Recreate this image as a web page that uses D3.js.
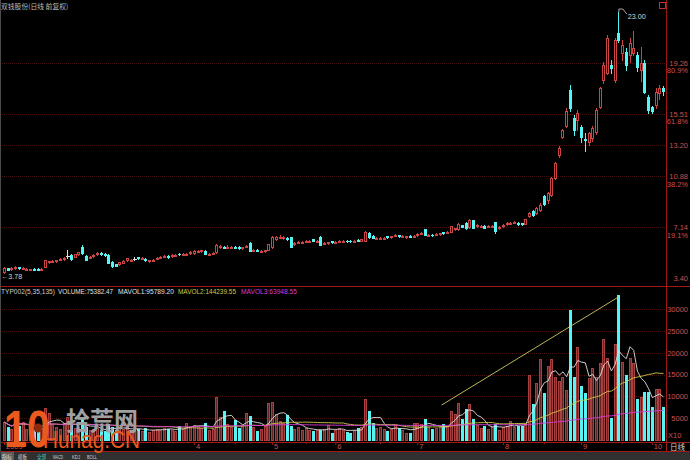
<!DOCTYPE html>
<html><head><meta charset="utf-8">
<script src="https://cdn.jsdelivr.net/npm/d3@7"></script>
<style>html,body{margin:0;padding:0;background:#000;overflow:hidden}svg{display:block}</style>
</head><body>
<svg id="c" width="690" height="460"></svg>
<script>
const opens = [3.86,4.12,4.04,4.12,4.20,4.12,4.08,4.00,4.10,4.08,4.02,4.22,4.55,4.62,4.64,4.76,4.80,5.05,5.10,4.98,
5.16,5.68,5.02,4.88,5.02,5.14,5.26,5.16,5.10,4.58,4.40,4.42,4.52,4.70,4.70,4.80,4.92,4.84,4.82,4.64,
4.70,4.82,4.90,4.96,5.04,5.02,5.06,5.20,5.12,5.14,5.24,5.22,5.36,5.38,5.40,5.14,5.20,5.30,5.68,5.72,
5.66,5.66,5.70,5.70,5.58,5.70,5.98,5.40,5.50,5.36,5.36,5.48,5.66,6.28,6.38,6.34,6.36,6.40,5.90,6.00,
6.02,6.08,6.10,6.24,6.10,6.42,5.94,5.96,6.10,6.00,6.06,6.08,6.16,6.16,6.10,6.22,6.16,6.16,6.72,6.50,
6.32,6.32,6.32,6.46,6.40,6.50,6.56,6.46,6.40,6.50,6.46,6.56,6.66,6.98,6.52,6.60,6.60,6.62,6.76,6.74,
6.80,6.98,7.00,7.30,7.45,7.14,7.64,7.20,7.20,7.24,7.18,7.20,7.52,7.06,7.22,7.36,7.40,7.46,7.46,7.44,
7.40,7.98,8.34,8.19,8.41,9.44,9.15,9.52,10.77,12.46,13.79,14.60,17.25,15.19,15.04,14.53,13.64,13.42,13.72,14.16,
16.00,17.99,18.51,19.10,17.99,21.45,19.98,20.05,19.83,19.98,19.83,18.73,19.24,16.74,16.00,16.15,17.00,17.40];
const highs = [4.18,4.16,4.18,4.25,4.24,4.22,4.16,4.10,4.12,4.12,4.12,4.76,4.68,4.74,4.76,4.86,4.94,5.45,5.14,5.20,
5.34,5.85,5.10,5.04,5.18,5.30,5.32,5.22,5.20,4.62,4.46,4.60,4.70,4.90,4.82,4.92,4.98,4.96,4.86,4.76,
4.82,4.96,5.02,5.10,5.08,5.16,5.18,5.26,5.24,5.24,5.38,5.46,5.50,5.50,5.44,5.26,5.32,5.92,5.82,5.76,
5.80,5.76,5.74,5.74,5.72,5.84,6.02,5.54,5.56,5.46,5.50,5.94,6.48,6.52,6.56,6.46,6.40,6.44,6.06,6.12,
6.14,6.20,6.22,6.28,6.22,6.46,6.06,6.08,6.14,6.12,6.18,6.20,6.20,6.20,6.22,6.26,6.30,6.86,6.76,6.54,
6.44,6.44,6.44,6.50,6.52,6.64,6.60,6.58,6.52,6.54,6.58,6.72,6.80,7.04,6.64,6.64,6.72,6.74,6.80,6.88,
7.26,7.12,7.42,7.34,7.50,7.76,7.68,7.36,7.32,7.28,7.32,7.32,7.56,7.22,7.38,7.52,7.54,7.60,7.50,7.48,
7.78,8.28,8.40,8.66,8.90,9.52,9.72,10.85,11.95,13.10,14.40,15.90,17.62,15.41,15.78,14.67,14.09,14.16,14.60,15.90,
17.50,19.30,21.30,19.46,21.09,23.00,20.94,20.35,21.09,21.60,20.05,20.42,19.46,16.89,16.10,17.40,17.62,17.55];
const lows = [3.78,3.98,4.00,4.08,4.08,4.08,4.02,3.96,3.98,3.98,3.98,4.18,4.50,4.58,4.60,4.70,4.76,4.85,4.76,4.94,
5.10,5.20,4.70,4.84,4.98,5.10,5.10,5.02,4.48,4.22,4.26,4.38,4.48,4.66,4.66,4.70,4.80,4.80,4.66,4.60,
4.66,4.78,4.86,4.92,4.90,4.98,5.02,5.10,5.08,5.10,5.20,5.18,5.32,5.34,5.16,5.10,5.16,5.26,5.62,5.58,
5.62,5.62,5.58,5.54,5.54,5.66,5.36,5.36,5.38,5.32,5.32,5.44,5.62,6.22,6.34,6.30,6.20,5.66,5.86,5.96,
5.98,6.04,6.06,6.12,6.06,5.80,5.90,5.92,5.98,5.96,6.02,6.04,6.06,6.06,6.06,6.12,6.12,6.12,6.38,6.32,
6.28,6.28,6.28,6.36,6.36,6.46,6.44,6.42,6.36,6.40,6.42,6.52,6.62,6.56,6.48,6.50,6.56,6.58,6.66,6.70,
6.76,6.94,6.96,7.14,7.00,7.10,7.06,7.16,7.16,7.08,7.14,7.16,6.70,7.02,7.18,7.32,7.36,7.42,7.32,7.34,
7.36,7.90,7.98,8.10,8.36,8.78,8.96,9.44,10.70,12.30,13.70,14.50,15.70,13.94,14.31,13.42,12.75,13.20,13.50,14.00,
15.90,17.80,18.40,18.51,17.85,20.80,19.46,18.73,19.32,19.80,18.66,17.88,17.00,15.56,15.56,15.93,16.60,16.85];
const closes = [4.12,4.02,4.12,4.20,4.12,4.16,4.10,4.04,4.02,4.02,4.08,4.70,4.62,4.68,4.70,4.78,4.88,5.05,4.80,5.14,
5.28,5.24,4.75,4.98,5.12,5.24,5.14,5.06,4.52,4.30,4.32,4.55,4.64,4.84,4.76,4.80,4.84,4.90,4.70,4.70,
4.76,4.90,4.96,5.04,4.94,5.10,5.12,5.14,5.18,5.18,5.32,5.40,5.42,5.44,5.20,5.20,5.26,5.86,5.76,5.62,
5.72,5.70,5.62,5.58,5.66,5.78,5.40,5.48,5.42,5.40,5.44,5.88,6.42,6.40,6.44,6.40,6.24,5.70,6.00,6.08,
6.08,6.14,6.16,6.16,6.16,5.84,6.00,6.02,6.02,6.06,6.12,6.14,6.12,6.12,6.16,6.16,6.24,6.80,6.42,6.36,
6.38,6.38,6.38,6.40,6.46,6.58,6.48,6.52,6.46,6.44,6.52,6.66,6.74,6.60,6.58,6.56,6.66,6.68,6.70,6.82,
7.20,7.08,7.38,7.18,7.05,7.70,7.10,7.30,7.26,7.12,7.26,7.26,6.88,7.16,7.32,7.46,7.48,7.54,7.36,7.38,
7.72,8.19,8.04,8.56,8.78,8.85,9.66,10.77,11.87,12.98,14.31,15.70,15.93,14.31,15.56,13.79,13.57,14.09,14.46,15.78,
17.40,19.10,21.09,18.88,20.94,20.94,20.57,19.10,20.72,20.35,18.95,19.24,17.11,15.78,15.71,17.11,17.40,17.18];
const volumes = [4100,3000,2500,5500,3200,4200,2600,2200,2400,2000,2800,7300,6100,3600,3000,2600,3800,5200,3400,2800,
3000,4800,3000,2400,2600,2800,2200,2000,3600,3000,2200,2400,2600,3200,2400,2200,2600,2000,2800,1800,
2200,2600,2400,2800,2600,2200,2000,3200,2600,3900,3000,3400,3200,2800,3900,2400,2600,9800,5200,6600,
3600,3000,4500,2800,3400,6100,5400,3000,2000,2600,3200,8400,8700,6000,4400,3800,5700,3300,2600,3000,
2400,2800,2200,2000,2400,2300,2600,3400,1600,2200,2800,2400,1900,1700,2400,2700,3000,9400,6600,4000,
2800,3000,2600,2000,2600,3400,2700,2400,1600,1600,3800,4000,3600,4800,2900,2600,2800,3000,3600,3200,
6600,6000,8400,4700,7200,8200,4700,3400,2800,3300,2600,3000,3700,2400,3000,3200,4400,3000,3300,3200,
3600,15000,8300,13000,18600,10700,17000,18500,14500,13600,14400,11400,29700,14400,21200,12400,10700,14300,16400,14400,
17700,23200,18700,5000,22000,33200,17900,15000,18800,17700,9400,9800,10900,10900,7500,11600,11700,7538];

const priceLevels = [19.26, 15.51, 13.20, 10.88, 7.14, 3.40];
const levelPct = ["80.9%", "61.8%", "", "38.2%", "19.1%", ""];
const volTicks = [5000, 10000, 15000, 20000, 25000, 30000];
const monthTickIdx = [0, 51, 72, 89, 111, 134, 155, 174];
const monthTickLabels = ["2009", "4", "5", "6", "7", "8", "9", "10"];
const minorTickIdx = [19, 36, 62, 81, 101, 124, 145, 166];
const maPeriods = [5, 35, 135];
const trendLine = [[117.4, 8000], [165, 32800]];
const headerParts = ["TYP002(5,35,135)", "VOLUME:75382.47", "MAVOL1:95789.20", "MAVOL2:144239.55", "MAVOL3:63948.55"];
const toolbarItems = ["指标", "模板", "全部", "MACD", "KDJ", "BOLL"];

const RED = "#cc4444", CYAN = "#58f4f4", AXR = "#a01818", LAB = "#cc5050";
const FONT = "'Liberation Sans', Arial, sans-serif";
const CJK = "'Noto Sans CJK SC', sans-serif";

const svg = d3.select("#c");
svg.append("rect").attr("width", 690).attr("height", 460).attr("fill", "#000");

const N = closes.length;
const x = d3.scaleBand().domain(d3.range(N)).range([3, 665]).paddingInner(0.2);
const cx = i => x(i) + x.bandwidth() / 2;
const yP = d3.scaleLinear().domain([3.40, 23.00]).range([278, 12]);
const yV = d3.scaleLinear().domain([0, 30000]).range([440, 309]);

// grid lines
const grid = svg.append("g").attr("stroke", "#441010").attr("stroke-dasharray", "1,1").attr("shape-rendering", "crispEdges");
priceLevels.filter(v => v > 3.40).forEach(v => {
  grid.append("line").attr("x1", 0).attr("x2", 666).attr("y1", Math.round(yP(v)) + 0.5).attr("y2", Math.round(yP(v)) + 0.5);
});
volTicks.forEach(v => {
  grid.append("line").attr("x1", 0).attr("x2", 666).attr("y1", Math.round(yV(v)) + 0.5).attr("y2", Math.round(yV(v)) + 0.5);
});

// frame lines
const frame = svg.append("g").attr("stroke", AXR).attr("shape-rendering", "crispEdges");
frame.append("line").attr("x1", 666.5).attr("x2", 666.5).attr("y1", 0).attr("y2", 452);
frame.append("line").attr("x1", 0).attr("x2", 690).attr("y1", 286.5).attr("y2", 286.5);
frame.append("line").attr("x1", 0).attr("x2", 690).attr("y1", 442.5).attr("y2", 442.5);
frame.append("line").attr("x1", 0).attr("x2", 690).attr("y1", 451.5).attr("y2", 451.5);
svg.append("line").attr("x1", 0.5).attr("x2", 0.5).attr("y1", 0).attr("y2", 452).attr("stroke", "#4a4a4a");

// candles
const data = d3.range(N).map(i => ({i, o: opens[i], h: highs[i], l: lows[i], c: closes[i], v: volumes[i]}));
const colorOf = d => d.c > d.o ? RED : (d.c < d.o ? CYAN : "#e0e0e0");
const bw = Math.round(x.bandwidth());
const cg = svg.append("g").attr("shape-rendering", "crispEdges");
data.forEach(d => {
  const col = colorOf(d);
  const left = Math.round(x(d.i));
  const mid = left + Math.floor(bw / 2) + 0.5;
  cg.append("line").attr("x1", mid).attr("x2", mid)
    .attr("y1", Math.round(yP(d.h))).attr("y2", Math.round(yP(d.l)) + 1).attr("stroke", col);
  const top = Math.round(yP(Math.max(d.o, d.c)));
  const bot = Math.round(yP(Math.min(d.o, d.c)));
  if (d.c > d.o) {
    cg.append("rect").attr("x", left + 0.5).attr("y", top + 0.5).attr("width", bw - 1).attr("height", Math.max(1, bot - top))
      .attr("fill", "#000").attr("stroke", col);
  } else if (d.c < d.o) {
    cg.append("rect").attr("x", left).attr("y", top).attr("width", bw).attr("height", Math.max(1, bot - top + 1)).attr("fill", col);
  } else {
    cg.append("rect").attr("x", left - 0.5).attr("y", top).attr("width", bw + 1).attr("height", 1).attr("fill", col);
  }
});

// high / low annotations
const hiIdx = d3.maxIndex(highs), loIdx = d3.minIndex(lows);
const hx = cx(hiIdx), hy = yP(highs[hiIdx]);
svg.append("polyline").attr("points", `${hx},${hy} ${hx},${hy - 3} ${hx + 4},${hy - 3} ${hx + 8},${hy + 2}`)
  .attr("fill", "none").attr("stroke", "#cfcfcf").attr("stroke-width", 0.8);
svg.append("text").attr("x", hx + 9).attr("y", hy + 6.5).text(highs[hiIdx].toFixed(2))
  .attr("fill", "#d8d8d8").attr("font-family", FONT).attr("font-size", 7.2);
svg.append("text").attr("x", 1).attr("y", yP(lows[loIdx]) + 6.5).text("←" + lows[loIdx].toFixed(2))
  .attr("fill", "#d0d0d0").attr("font-family", FONT).attr("font-size", 7.2);

// volume bars
const vg = svg.append("g").attr("shape-rendering", "crispEdges");
data.forEach(d => {
  const left = Math.round(x(d.i));
  const top = Math.round(yV(d.v));
  if (d.c >= d.o) {
    vg.append("rect").attr("x", left + 0.5).attr("y", top + 0.5).attr("width", bw - 1).attr("height", Math.max(1, 440 - top))
      .attr("fill", "#642424").attr("stroke", "#a84040");
  } else {
    vg.append("rect").attr("x", left).attr("y", top).attr("width", bw).attr("height", Math.max(1, 441 - top)).attr("fill", CYAN);
  }
});

// moving averages of volume
const maColors = ["#e0e0e0", "#d0c848", "#d83cd8"];
maPeriods.forEach((p, k) => {
  const ma = volumes.map((v, i) => d3.mean(volumes.slice(Math.max(0, i - p + 1), i + 1)));
  const line = d3.line().x((v, i) => cx(i)).y(v => yV(v)).curve(d3.curveLinear);
  svg.append("path").attr("d", line(ma)).attr("fill", "none").attr("stroke", maColors[k]).attr("stroke-width", 0.9);
});

// trend line
svg.append("line")
  .attr("x1", x(0) + trendLine[0][0] * x.step() + x.bandwidth() / 2).attr("y1", yV(trendLine[0][1]))
  .attr("x2", cx(trendLine[1][0])).attr("y2", yV(trendLine[1][1]))
  .attr("stroke", "#d0c860").attr("stroke-width", 0.9);

// right axes
const pAxis = svg.append("g").attr("transform", "translate(688,0)")
  .call(d3.axisLeft(yP).tickValues(priceLevels).tickSize(0).tickPadding(0).tickFormat(d3.format(".2f")));
pAxis.select(".domain").remove();
pAxis.selectAll("text").attr("fill", LAB).attr("font-family", FONT).attr("font-size", 7.5).attr("dy", "0.32em");
priceLevels.forEach((v, k) => {
  if (levelPct[k]) svg.append("text").attr("x", 688).attr("y", yP(v) + 10.5).attr("text-anchor", "end")
    .text(levelPct[k]).attr("fill", LAB).attr("font-family", FONT).attr("font-size", 7.5);
});
const vAxis = svg.append("g").attr("transform", "translate(688,0)")
  .call(d3.axisLeft(yV).tickValues(volTicks).tickSize(0).tickPadding(0).tickFormat(d3.format("d")));
vAxis.select(".domain").remove();
vAxis.selectAll("text").attr("fill", LAB).attr("font-family", FONT).attr("font-size", 7.5).attr("dy", "0.32em");
svg.append("text").attr("x", 668).attr("y", 438).text("X10").attr("fill", LAB).attr("font-family", FONT).attr("font-size", 7.5);

// bottom axis
const bAxis = svg.append("g").attr("transform", "translate(0,442)")
  .call(d3.axisBottom(x).tickValues(monthTickIdx).tickSize(3).tickPadding(1).tickFormat((d, k) => monthTickLabels[k]));
bAxis.select(".domain").remove();
bAxis.selectAll("line").attr("stroke", AXR);
bAxis.selectAll("text").attr("fill", LAB).attr("font-family", FONT).attr("font-size", 7.5)
  .attr("text-anchor", "start").attr("x", 1.5).attr("y", 1.5);
const mAxis = svg.append("g").attr("transform", "translate(0,442)")
  .call(d3.axisBottom(x).tickValues(minorTickIdx).tickSize(2).tickFormat(""));
mAxis.select(".domain").remove();
mAxis.selectAll("line").attr("stroke", AXR);
svg.append("text").attr("x", 670).attr("y", 449.5).text("日线").attr("fill", "#d0d0d0").attr("font-family", CJK).attr("font-size", 7.5);

// title and header
svg.append("text").attr("x", 1).attr("y", 9).text("双钱股份(日线 前复权)").attr("fill", "#bdbdbd").attr("font-family", CJK).attr("font-size", 6.8);
const hx0 = [1, 58, 118, 178, 241], hw = [54, 55, 56, 58, 56];
const hcol = ["#cfcfcf", "#e0e0e0", "#e0e0e0", "#d0c848", "#d83cd8"];
headerParts.forEach((t, k) => {
  svg.append("text").attr("x", hx0[k]).attr("y", 293.5).text(t).attr("fill", hcol[k])
    .attr("font-family", FONT).attr("font-size", 7).attr("textLength", hw[k]).attr("lengthAdjust", "spacingAndGlyphs");
});

// top-right icon
svg.append("rect").attr("x", 659.5).attr("y", 2.5).attr("width", 6).attr("height", 6).attr("fill", "none").attr("stroke", "#c03030");

// toolbar
svg.append("rect").attr("x", 0).attr("y", 452).attr("width", 690).attr("height", 8).attr("fill", "#303030");
svg.append("rect").attr("x", 1).attr("y", 452).attr("width", 13).attr("height", 8).attr("fill", "#5c5c5c");
const tbx = [2, 18, 37, 53, 72, 87], tbw = [10, 9, 9, 10, 8, 10];
const tbc = ["#e8e8e8", "#cfcfcf", "#40d8c8", "#cfcfcf", "#cfcfcf", "#cfcfcf"];
toolbarItems.forEach((t, k) => {
  svg.append("text").attr("x", tbx[k]).attr("y", 458.5).text(t).attr("fill", tbc[k])
    .attr("font-family", k < 3 ? CJK : FONT).attr("font-size", 5.5)
    .attr("textLength", tbw[k]).attr("lengthAdjust", "spacingAndGlyphs");
});

// watermark
const wm = svg.append("g");
wm.append("text").attr("x", 66).attr("y", 430).text("拾荒网").attr("fill", "#a0a0a0").attr("font-weight", "bold")
  .attr("font-family", CJK).attr("font-size", 25).attr("textLength", 72).attr("lengthAdjust", "spacingAndGlyphs");
wm.append("text").attr("x", 4).attr("y", 447).text("10").attr("fill", "#ea5a1e")
  .attr("font-family", FONT).attr("font-weight", "bold").attr("font-size", 52).attr("textLength", 46).attr("lengthAdjust", "spacingAndGlyphs");
wm.append("circle").attr("cx", 38).attr("cy", 428).attr("r", 4.5).attr("fill", "#8a2a10");
wm.append("text").attr("x", 43).attr("y", 448).text("Hunag.CN").attr("fill", "#ea5a1e")
  .attr("font-family", FONT).attr("font-size", 24).attr("textLength", 97).attr("lengthAdjust", "spacingAndGlyphs");
</script>
</body></html>
